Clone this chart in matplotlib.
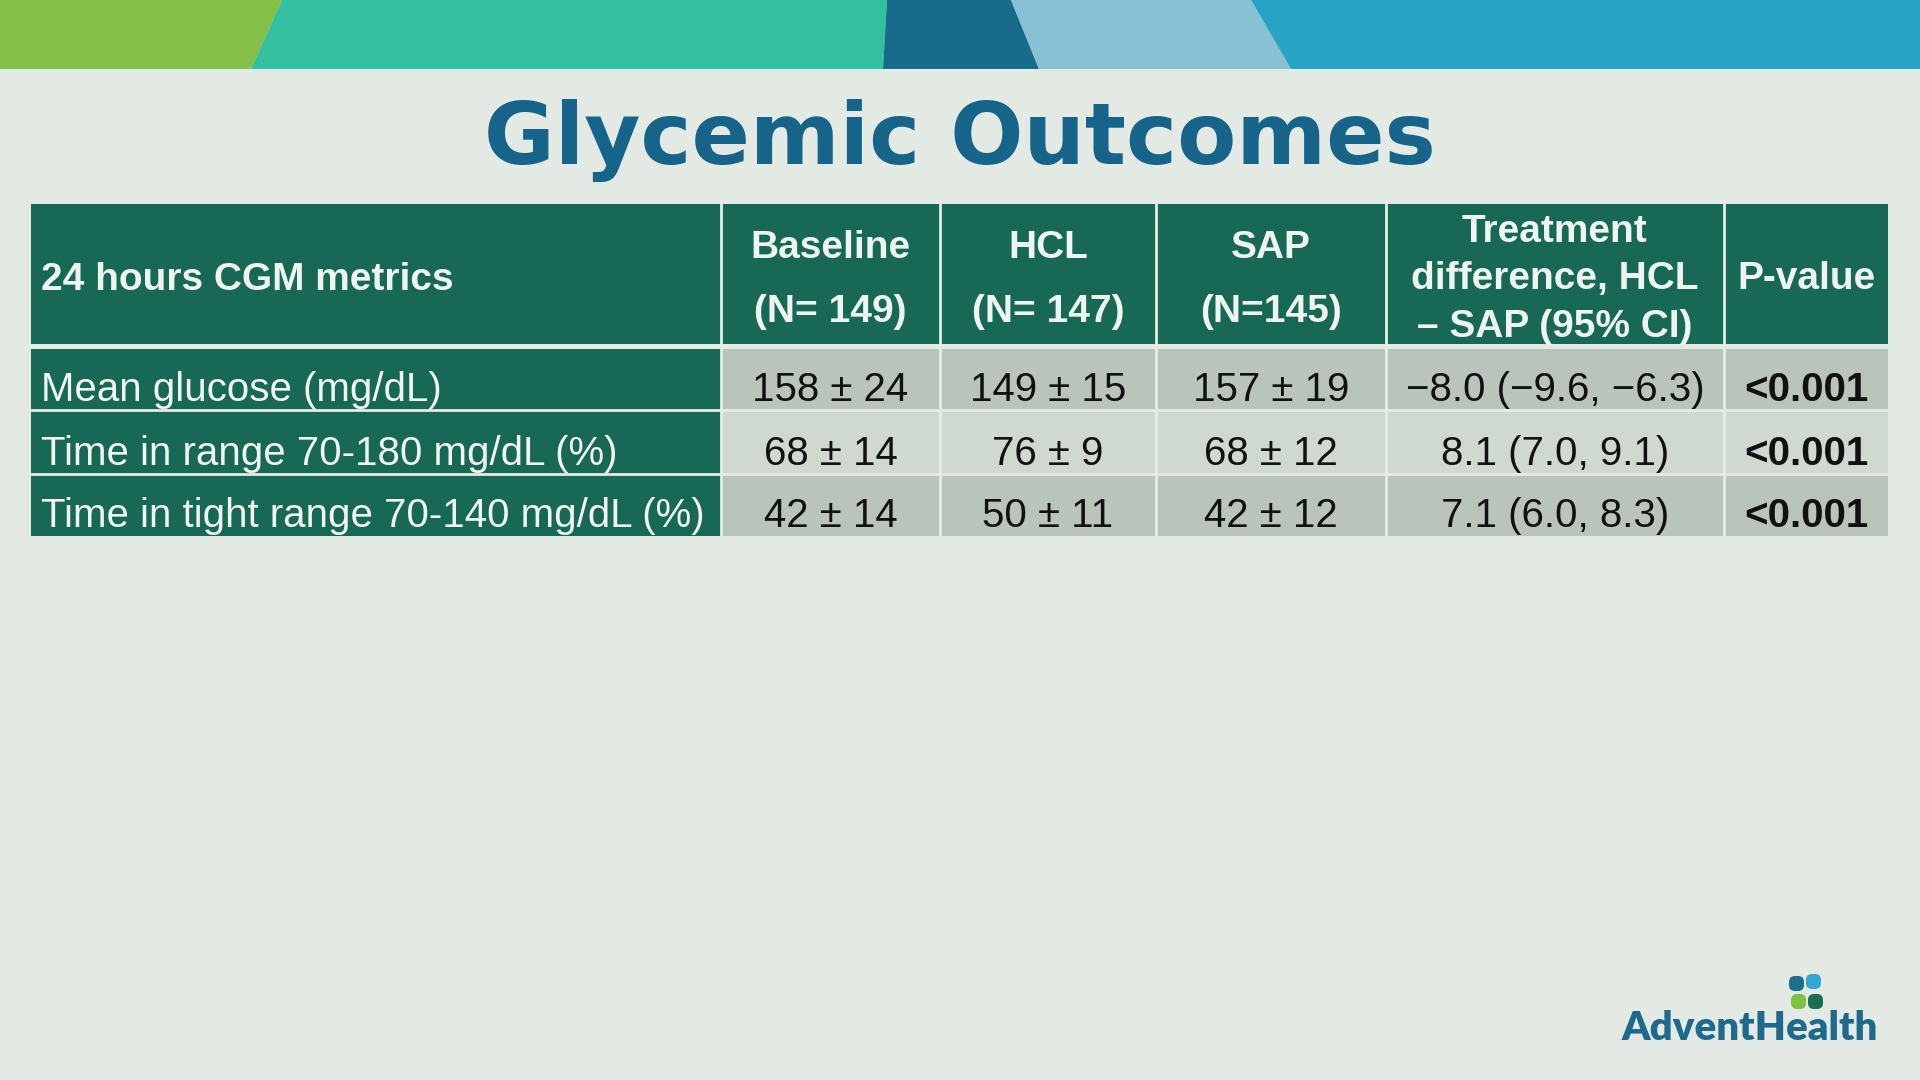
# Glycemic outcomes slide: title banner plus a results table of 24 h CGM metrics.

import matplotlib
matplotlib.use('Agg')
import matplotlib.pyplot as plt
from matplotlib.patches import Rectangle, Polygon, FancyBboxPatch

######
# DATA
######
title = 'Glycemic Outcomes'

header_first = '24 hours CGM metrics'
header_lines = [['Baseline', '(N= 149)'],
                ['HCL', '(N= 147)'],
                ['SAP', '(N=145)'],
                ['Treatment', 'difference, HCL', '\u2013 SAP (95% CI)'],
                ['P-value']]

metrics = ['Mean glucose (mg/dL)',
           'Time in range 70-180 mg/dL (%)',
           'Time in tight range 70-140 mg/dL (%)']
baseline = ['158 \u00b1 24', '68 \u00b1 14', '42 \u00b1 14']
hcl = ['149 \u00b1 15', '76 \u00b1 9', '50 \u00b1 11']
sap = ['157 \u00b1 19', '68 \u00b1 12', '42 \u00b1 12']
treatment_diff = ['\u22128.0 (\u22129.6, \u22126.3)', '8.1 (7.0, 9.1)', '7.1 (6.0, 8.3)']
p_values = ['<0.001', '<0.001', '<0.001']

logo_text = 'AdventHealth'

########
# LAYOUT
########
bg = '#e3e9e3'
green = '#176855'
row_colors = ['#b9c4bb', '#cfd9d0', '#b9c4bb']
line_col = '#e6ede6'
title_col = '#17648a'

col_edges = [31, 721, 940, 1156, 1386, 1724, 1888]
header_top, header_bottom = 204, 344
row_edges = [349, 410, 474, 536]

fig = plt.figure(figsize=(19.2, 10.8), dpi=100, facecolor=bg)
ax = fig.add_axes([0, 0, 1, 1])
ax.set_xlim(0, 1920)
ax.set_ylim(1080, 0)
ax.axis('off')
ax.set_facecolor(bg)

# Top colour banner.
banner = [('#84bf48', [(0, 0), (282, 0), (251, 69), (0, 69)]),
          ('#33c09e', [(282, 0), (887, 0), (883, 69), (251, 69)]),
          ('#186b8a', [(887, 0), (1011, 0), (1039, 69), (883, 69)]),
          ('#88c0d4', [(1011, 0), (1251, 0), (1291, 69), (1039, 69)]),
          ('#29a3c3', [(1251, 0), (1920, 0), (1920, 69), (1291, 69)])]
for col, pts in banner:
    ax.add_patch(Polygon(pts, closed=True, facecolor=col, edgecolor='none'))
ax.plot([0, 1920], [70, 70], color='#d6efe8', lw=1.5)

# Title.
ax.text(960, 164, title, ha='center', va='baseline', fontsize=62,
        fontweight='bold', color=title_col, family='DejaVu Sans')

# Header row.
ax.add_patch(Rectangle((col_edges[0], header_top), col_edges[-1] - col_edges[0],
                       header_bottom - header_top, facecolor=green, edgecolor='none'))
ax.text(col_edges[0] + 10, 290, header_first, ha='left', va='baseline',
        fontsize=28, fontweight='bold', color='#eef4ee', family='Liberation Sans')

line_baselines = {1: [289], 2: [258, 322], 3: [242, 289, 337]}
for i, lines in enumerate(header_lines):
    cx = (col_edges[i + 1] + col_edges[i + 2]) / 2
    for text, yb in zip(lines, line_baselines[len(lines)]):
        ax.text(cx, yb, text, ha='center', va='baseline', fontsize=28,
                fontweight='bold', color='#eef4ee', family='Liberation Sans')

# Body rows.
columns = [baseline, hcl, sap, treatment_diff, p_values]
for r, metric in enumerate(metrics):
    top, bottom = row_edges[r], row_edges[r + 1]
    ax.add_patch(Rectangle((col_edges[0], top), col_edges[1] - col_edges[0],
                           bottom - top, facecolor=green, edgecolor='none'))
    ax.add_patch(Rectangle((col_edges[1], top), col_edges[-1] - col_edges[1],
                           bottom - top, facecolor=row_colors[r], edgecolor='none'))
    yb = bottom - 9
    ax.text(col_edges[0] + 10, yb, metric, ha='left', va='baseline',
            fontsize=29, color='#f0f5f0', family='Liberation Sans')
    for c, values in enumerate(columns):
        cx = (col_edges[c + 1] + col_edges[c + 2]) / 2
        bold = c == len(columns) - 1
        ax.text(cx, yb, values[r], ha='center', va='baseline', fontsize=29,
                fontweight='bold' if bold else 'normal', color='#111111',
                family='Liberation Sans')

# Grid lines between cells.
for x in col_edges[1:-1]:
    ax.plot([x, x], [header_top, row_edges[-1]], color=line_col, lw=2)
for y in row_edges[1:-1]:
    ax.plot([col_edges[0], col_edges[-1]], [y, y], color=line_col, lw=2)

# Logo.
leaves = [('#1f6e8c', 1789, 976), ('#34a6cf', 1806, 974),
          ('#7dc242', 1791, 994), ('#1b6e52', 1808, 994)]
for col, x0, y0 in leaves:
    ax.add_patch(FancyBboxPatch((x0, y0), 15, 15,
                                boxstyle='round,pad=0,rounding_size=6',
                                facecolor=col, edgecolor='none'))
ax.text(1878, 1040, logo_text, ha='right', va='baseline', fontsize=29,
        fontweight='heavy', color='#1d6a8c', family='Lato')

fig.savefig('out.png', dpi=100, facecolor=bg)
